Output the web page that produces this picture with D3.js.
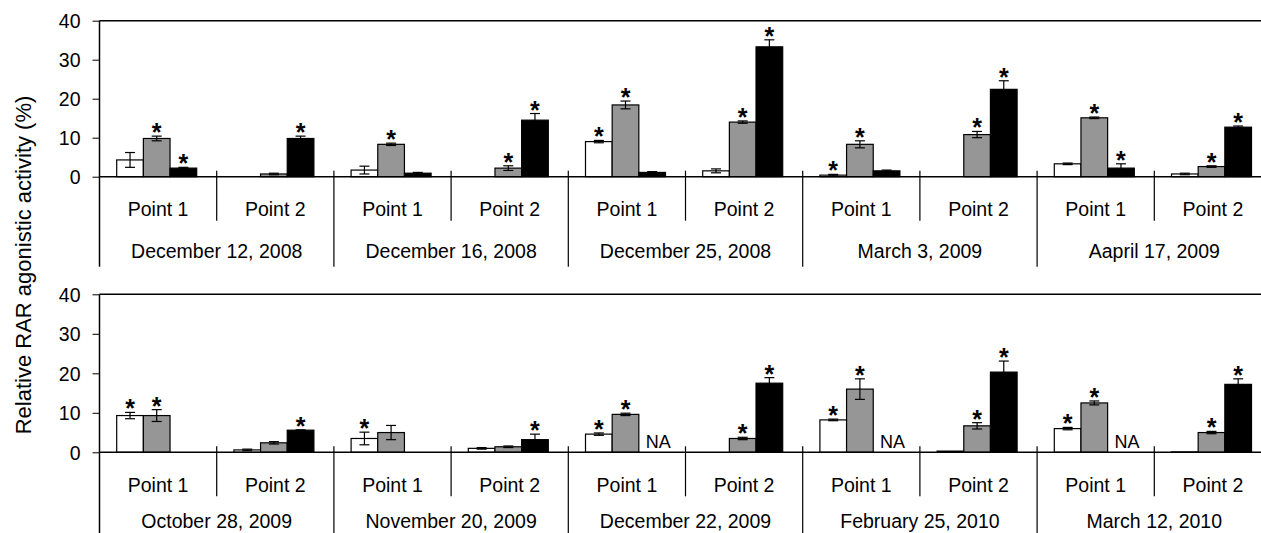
<!DOCTYPE html>
<html>
<head>
<meta charset="utf-8">
<script src="https://cdn.jsdelivr.net/npm/d3@7"></script>
<style>
  body { margin: 0; background: #fff; }
  svg text { font-family: Arial, "Liberation Sans", sans-serif; fill: #000; }
</style>
</head>
<body>
<svg id="chart" width="1261" height="533"></svg>
<script>
// categories
var points = ['Point 1', 'Point 2'];
var topDates = ['December 12, 2008', 'December 16, 2008', 'December 25, 2008', 'March 3, 2009', 'Aapril 17, 2009'];
var bottomDates = ['October 28, 2009', 'November 20, 2009', 'December 22, 2009', 'February 25, 2010', 'March 12, 2010'];
var yTicks = [0, 10, 20, 30, 40];

// top panel (one value per date x point)
var topWhite    = [4.3, 0,   1.7, 0,    9.0, 1.5,  0.4, 0,    3.3,  0.7];
var topWhiteErr = [1.9, 0,   1.0, 0,    0.3, 0.5,  0.2, 0,    0.2,  0.2];
var topWhiteSig = [0,   0,   0,   0,    1,   0,    1,   0,    0,    0];
var topGray     = [9.8, 0.7, 8.3, 2.2,  18.4, 14.0, 8.3, 10.8, 15.1, 2.6];
var topGrayErr  = [0.6, 0.2, 0.3, 0.6,  1.0, 0.3,  0.9, 0.8,  0.2,  0.2];
var topGraySig  = [1,   0,   1,   1,    1,   1,    1,   1,    1,    1];
var topBlack    = [2.2, 9.8, 0.9, 14.5, 1.1, 33.3, 1.5, 22.4, 2.2,  12.7];
var topBlackErr = [0.2, 0.6, 0.2, 1.7,  0.2, 1.8,  0.2, 2.2,  1.1,  0.3];
var topBlackSig = [1,   1,   0,   1,    0,   1,    0,   1,    1,    1];
var topBlackNA  = [0,   0,   0,   0,    0,   0,    0,   0,    0,    0];

// bottom panel
var bottomWhite    = [9.3, 0.6, 3.5, 1.0, 4.6, 0,    8.2,  0.3,  6.0,  0.1];
var bottomWhiteErr = [0.8, 0.2, 1.6, 0.2, 0.3, 0,    0.2,  0,    0.3,  0];
var bottomWhiteSig = [1,   0,   1,   0,   1,   0,    1,    0,    1,    0];
var bottomGray     = [9.3, 2.4, 5.0, 1.4, 9.6, 3.5,  16.0, 6.7,  12.5, 5.0];
var bottomGrayErr  = [1.5, 0.3, 1.8, 0.2, 0.3, 0.3,  2.6,  0.8,  0.5,  0.3];
var bottomGraySig  = [1,   0,   0,   0,   1,   1,    1,    1,    1,    1];
var bottomBlack    = [null, 5.6, null, 3.2, null, 17.5, null, 20.3, null, 17.2];
var bottomBlackErr = [0,    0.1, 0,    1.4, 0,    1.4,  0,    2.8,  0,    1.4];
var bottomBlackSig = [0,    1,   0,    1,   0,    1,    0,    1,    0,    1];
var bottomBlackNA  = [0,    0,   0,    0,   1,    0,    1,    0,    1,    0];

var seriesFill = ['#ffffff', '#969696', '#000000'];

var svg = d3.select('#chart');

var left = 99.5, groupW = 117.2;

function drawPanel(top, zero, dates, vals, errs, sigs, na, dateDy) {
  var groups = [];
  dates.forEach(function (d, i) {
    points.forEach(function (p, j) { groups.push({date: d, point: p, i: i * 2 + j}); });
  });

  var x = d3.scaleBand().domain(d3.range(groups.length)).range([left, left + groupW * groups.length]);
  var xs = d3.scaleBand().domain([0, 1, 2]).range([17.2, 17.2 + 80]);
  var y = d3.scaleLinear().domain([0, 40]).range([zero, top]);

  var g = svg.append('g');

  // top border line
  g.append('line')
    .attr('x1', left).attr('x2', left + groupW * groups.length)
    .attr('y1', y(40)).attr('y2', y(40))
    .attr('stroke', '#000').attr('stroke-width', 1.5);

  // y axis
  var yAxis = d3.axisLeft(y).tickValues(yTicks).tickSize(7).tickPadding(12).tickSizeOuter(0);
  var ax = g.append('g').attr('transform', 'translate(' + left + ',0)').call(yAxis);
  ax.select('.domain').remove();
  ax.selectAll('.tick line').attr('stroke', '#000');
  ax.selectAll('.tick text').style('font-size', '19.5px').attr('dy', '0.35em');
  g.append('line')
    .attr('x1', left).attr('x2', left)
    .attr('y1', y(40)).attr('y2', zero + 90)
    .attr('stroke', '#000').attr('stroke-width', 1.5);

  // bars
  groups.forEach(function (gr) {
    var gx = x(gr.i);
    for (var s = 0; s < 3; s++) {
      var v = vals[s][gr.i];
      var bx = gx + xs(s), bw = xs.bandwidth();
      if (na[s][gr.i]) {
        g.append('text')
          .attr('x', bx + bw / 2 + 6).attr('y', zero - 4)
          .attr('text-anchor', 'middle')
          .style('font-size', '18px')
          .text('NA');
        continue;
      }
      if (v == null || v === 0) continue;
      g.append('rect')
        .attr('x', bx).attr('y', y(v))
        .attr('width', bw).attr('height', zero - y(v))
        .attr('fill', seriesFill[s])
        .attr('stroke', '#000').attr('stroke-width', 1.2);
      var e = errs[s][gr.i];
      var cx = bx + bw / 2;
      if (e > 0) {
        g.append('line')
          .attr('x1', cx).attr('x2', cx)
          .attr('y1', y(v + e)).attr('y2', y(v - e))
          .attr('stroke', '#000').attr('stroke-width', 1.2);
        [v + e, v - e].forEach(function (ev) {
          g.append('line')
            .attr('x1', cx - 5).attr('x2', cx + 5)
            .attr('y1', y(ev)).attr('y2', y(ev))
            .attr('stroke', '#000').attr('stroke-width', 1.2);
        });
      }
      if (sigs[s][gr.i]) {
        g.append('text')
          .attr('x', cx).attr('y', y(v + e) + 5)
          .attr('text-anchor', 'middle')
          .style('font-size', '25px')
          .style('font-weight', 'bold')
          .text('*');
      }
    }
  });

  // zero line
  g.append('line')
    .attr('x1', left).attr('x2', left + groupW * groups.length)
    .attr('y1', zero).attr('y2', zero)
    .attr('stroke', '#000').attr('stroke-width', 1.5);

  // category labels and separators
  groups.forEach(function (gr) {
    var gx = x(gr.i);
    g.append('text')
      .attr('x', gx + groupW / 2).attr('y', zero + 39.5)
      .attr('text-anchor', 'middle')
      .style('font-size', '19.5px')
      .text(gr.point);
    if (gr.i > 0) {
      var isDate = gr.i % 2 === 0;
      g.append('line')
        .attr('x1', gx).attr('x2', gx)
        .attr('y1', zero - 6).attr('y2', zero + (isDate ? 90 : 44))
        .attr('stroke', '#000').attr('stroke-width', 1.2);
    }
  });
  dates.forEach(function (d, i) {
    g.append('text')
      .attr('x', x(i * 2) + groupW).attr('y', zero + dateDy)
      .attr('text-anchor', 'middle')
      .style('font-size', '19.5px')
      .text(d);
  });
}

drawPanel(20.7, 176.7, topDates,
  [topWhite, topGray, topBlack], [topWhiteErr, topGrayErr, topBlackErr],
  [topWhiteSig, topGraySig, topBlackSig], [[], [], topBlackNA], 81.5);

drawPanel(294.3, 452.3, bottomDates,
  [bottomWhite, bottomGray, bottomBlack], [bottomWhiteErr, bottomGrayErr, bottomBlackErr],
  [bottomWhiteSig, bottomGraySig, bottomBlackSig], [[], [], bottomBlackNA], 76);

// y axis title
svg.append('text')
  .attr('transform', 'translate(31,265) rotate(-90)')
  .attr('text-anchor', 'middle')
  .style('font-size', '22px')
  .text('Relative RAR agonistic activity (%)');
</script>
</body>
</html>
